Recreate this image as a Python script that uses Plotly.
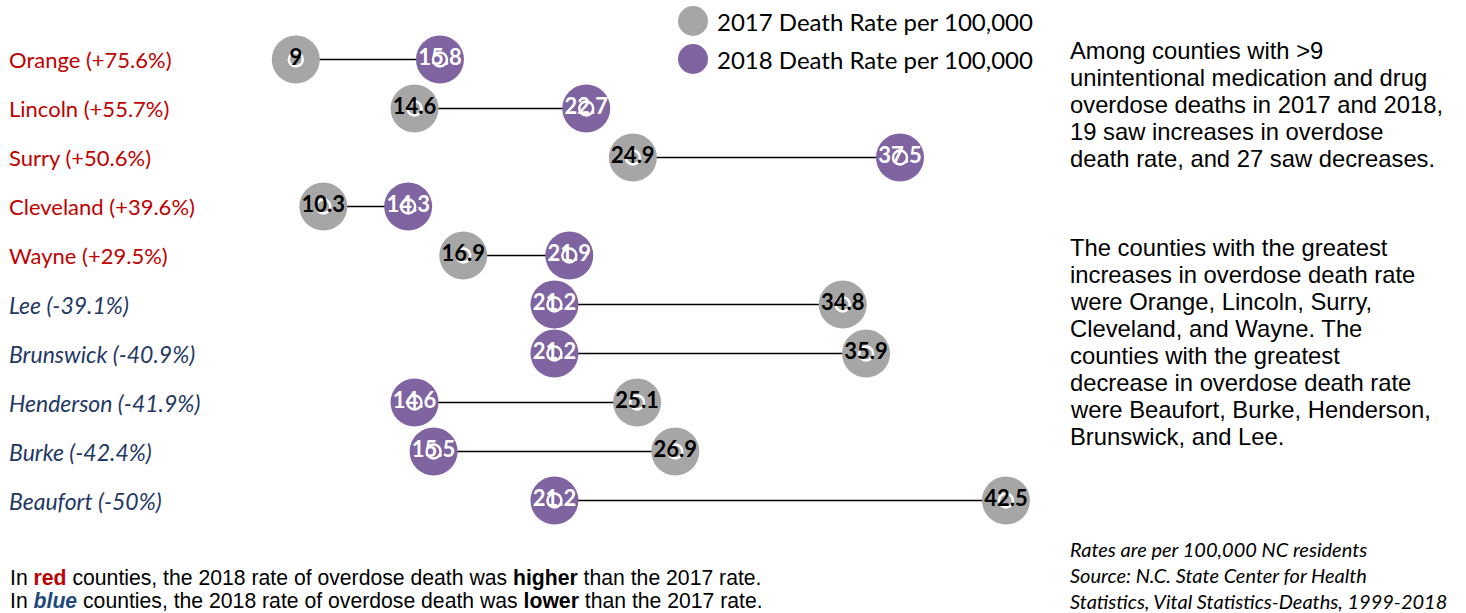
import plotly.graph_objects as go

# County overdose death rates per 100,000 (2017 vs 2018)
counties = ["Orange", "Lincoln", "Surry", "Cleveland", "Wayne",
            "Lee", "Brunswick", "Henderson", "Burke", "Beaufort"]
pct_change = ["+75.6%", "+55.7%", "+50.6%", "+39.6%", "+29.5%",
              "-39.1%", "-40.9%", "-41.9%", "-42.4%", "-50%"]
rate_2017 = [9.0, 14.6, 24.9, 10.3, 16.9, 34.8, 35.9, 25.1, 26.9, 42.5]
rate_2018 = [15.8, 22.7, 37.5, 14.3, 21.9, 21.2, 21.2, 14.6, 15.5, 21.2]

GRAY = "#A6A6A6"
PURPLE = "#8064A2"
RED = "#C00000"
BLUE = "#1F3864"

FIG_W, FIG_H = 1466, 613
L, T, PW, PH = 105, 35, 954, 490


def px(x):
    return (x - L) / PW


def py(y):
    return 1 - (y - T) / PH


rows = list(range(len(counties)))
fig = go.Figure()

# connecting segments
for i in rows:
    fig.add_trace(go.Scatter(
        x=[rate_2017[i], rate_2018[i]], y=[i, i], mode="lines",
        line=dict(color="black", width=1.5), hoverinfo="skip", showlegend=False))

# big dots
fig.add_trace(go.Scatter(
    x=rate_2017, y=rows, mode="markers", name="2017 Death Rate per 100,000",
    marker=dict(color=GRAY, size=48, line=dict(width=0)), showlegend=False))
fig.add_trace(go.Scatter(
    x=rate_2018, y=rows, mode="markers", name="2018 Death Rate per 100,000",
    marker=dict(color=PURPLE, size=48, line=dict(width=0)), showlegend=False))

# small white rings at segment ends
fig.add_trace(go.Scatter(
    x=rate_2017 + rate_2018, y=rows + rows, mode="markers",
    marker=dict(symbol="circle-open", color="white", size=14, line=dict(width=2.5)),
    hoverinfo="skip", showlegend=False))

# value labels
fig.add_trace(go.Scatter(
    x=rate_2017, y=rows, mode="text", text=[f"<b>{v:g}</b>" for v in rate_2017],
    textfont=dict(family="Lato", size=22, color="black"),
    textposition="middle center", hoverinfo="skip", showlegend=False))
fig.add_trace(go.Scatter(
    x=rate_2018, y=rows, mode="text", text=[f"<b>{v:g}</b>" for v in rate_2018],
    textfont=dict(family="Lato", size=22, color="white"),
    textposition="middle center", hoverinfo="skip", showlegend=False))

annotations = []

# county labels
for i, (name, pc) in enumerate(zip(counties, pct_change)):
    up = pc.startswith("+")
    txt = f"{name} ({pc})" if up else f"<i>{name} ({pc})</i>"
    annotations.append(dict(
        x=px(7), y=i, xref="paper", yref="y", text=txt, showarrow=False,
        xanchor="left", yanchor="middle",
        font=dict(family="Lato", size=22 if up else 23, color=RED if up else BLUE)))

# legend
shapes = []
for cy, col, lab in [(21, GRAY, "2017 Death Rate per 100,000"),
                     (59, PURPLE, "2018 Death Rate per 100,000")]:
    shapes.append(dict(type="circle", xref="paper", yref="paper",
                       x0=px(678), x1=px(708), y0=py(cy + 15), y1=py(cy - 15),
                       fillcolor=col, line=dict(width=0)))
    annotations.append(dict(
        x=px(715), y=py(cy), xref="paper", yref="paper", text=lab, showarrow=False,
        xanchor="left", yanchor="middle",
        font=dict(family="Lato", size=24, color="black")))

# commentary on the right, one annotation per line
para1 = ["Among counties with >9", "unintentional medication and drug",
         "overdose deaths in 2017 and 2018,", "19 saw increases in overdose",
         "death rate, and 27 saw decreases."]
para2 = ["The counties with the greatest", "increases in overdose death rate",
         "were Orange, Lincoln, Surry,", "Cleveland, and Wayne. The",
         "counties with the greatest", "decrease in overdose death rate",
         "were Beaufort, Burke, Henderson,", "Brunswick, and Lee."]
for y0, lines in [(50, para1), (247, para2)]:
    for k, line in enumerate(lines):
        annotations.append(dict(
            x=px(1068), y=py(y0 + 27 * k), xref="paper", yref="paper", text=line,
            showarrow=False, xanchor="left", yanchor="middle", align="left",
            font=dict(family="Liberation Sans", size=23.8, color="black")))

annotations.append(dict(
    x=px(1068), y=py(535), xref="paper", yref="paper",
    text=("<i>Rates are per 100,000 NC residents<br>Source: N.C. State Center for Health<br>"
          "Statistics, Vital Statistics-Deaths, 1999-2018</i>"),
    showarrow=False, xanchor="left", yanchor="top", align="left",
    font=dict(family="Lato", size=20, color="black")))

notes = [
    (578, f"In <b><span style='color:{RED}'>red</span></b> counties, the 2018 rate of overdose "
          "death was <b>higher</b> than the 2017 rate."),
    (600, "In <b><i><span style='color:#1F497D'>blue</span></i></b> counties, the 2018 rate of "
          "overdose death was <b>lower</b> than the 2017 rate."),
]
for yy, txt in notes:
    annotations.append(dict(
        x=px(8), y=py(yy), xref="paper", yref="paper", text=txt,
        showarrow=False, xanchor="left", yanchor="middle", align="left",
        font=dict(family="Liberation Sans", size=21.2, color="black")))

fig.update_layout(
    width=FIG_W, height=FIG_H,
    margin=dict(l=L, r=FIG_W - L - PW, t=T, b=FIG_H - T - PH),
    paper_bgcolor="white", plot_bgcolor="white",
    xaxis=dict(range=[0, 45], visible=False, fixedrange=True),
    yaxis=dict(range=[9.5, -0.5], visible=False, fixedrange=True),
    showlegend=False, annotations=annotations, shapes=shapes,
)

fig.write_html("out.html")
